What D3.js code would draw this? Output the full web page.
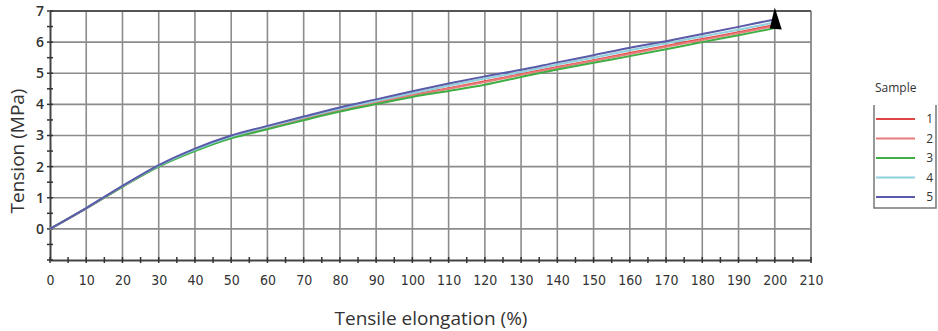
<!DOCTYPE html>
<html>
<head>
<meta charset="utf-8">
<script src="https://cdn.jsdelivr.net/npm/d3@7"></script>
<style>
  body { margin: 0; background: #fff; }
  svg { display: block; }
</style>
</head>
<body>
<div id="chart"></div>
<script>
// data
var elongation = [0, 10, 20, 30, 40, 50, 60, 70, 80, 90, 100, 110, 120, 130, 140, 150, 160, 170, 180, 190, 200];
var sample1 = [0, 0.66, 1.36, 2.02, 2.53, 2.95, 3.25, 3.54, 3.82, 4.07, 4.31, 4.52, 4.74, 4.97, 5.20, 5.42, 5.65, 5.88, 6.10, 6.32, 6.55];
var sample2 = [0, 0.66, 1.36, 2.01, 2.52, 2.94, 3.23, 3.52, 3.81, 4.05, 4.29, 4.50, 4.72, 4.95, 5.18, 5.40, 5.62, 5.85, 6.07, 6.29, 6.52];
var sample3 = [0, 0.66, 1.35, 2.00, 2.50, 2.91, 3.20, 3.49, 3.77, 4.01, 4.24, 4.43, 4.63, 4.88, 5.12, 5.34, 5.55, 5.77, 6.00, 6.22, 6.45];
var sample4 = [0, 0.67, 1.37, 2.03, 2.55, 2.97, 3.28, 3.58, 3.86, 4.11, 4.36, 4.60, 4.83, 5.04, 5.28, 5.50, 5.74, 5.96, 6.18, 6.40, 6.63];
var sample5 = [0, 0.67, 1.38, 2.05, 2.58, 3.00, 3.31, 3.61, 3.90, 4.16, 4.42, 4.67, 4.90, 5.11, 5.35, 5.58, 5.82, 6.03, 6.26, 6.49, 6.73];
var sampleNames = ["1", "2", "3", "4", "5"];
var sampleColors = ["#e04545", "#ea7b7b", "#3fae45", "#8fd0dd", "#5a5aa8"];
var xTicks = d3.range(0, 211, 10);
var yTicks = [0, 1, 2, 3, 4, 5, 6, 7];

var svgWidth = 938;
var svgHeight = 331;
var margin = { top: 11, right: 127, bottom: 71, left: 50 };
var width = svgWidth - margin.left - margin.right;
var height = svgHeight - margin.top - margin.bottom;

var svg = d3.select("#chart")
    .append("svg")
    .attr("width", svgWidth)
    .attr("height", svgHeight);

var chartGroup = svg.append("g")
    .attr("transform", `translate(${margin.left}, ${margin.top})`);

var xScale = d3.scaleLinear().domain([0, 210]).range([0, width]);
var yScale = d3.scaleLinear().domain([-1, 7]).range([height, 0]);

// grid
chartGroup.append("g")
    .selectAll("line")
    .data(xTicks.slice(1))
    .enter()
    .append("line")
    .attr("x1", d => xScale(d)).attr("x2", d => xScale(d))
    .attr("y1", 0).attr("y2", height)
    .attr("stroke", d => d === 210 ? "#777" : "#8c8c8c")
    .attr("stroke-width", 1.6);

chartGroup.append("g")
    .selectAll("line")
    .data(yTicks)
    .enter()
    .append("line")
    .attr("x1", 0).attr("x2", width)
    .attr("y1", d => yScale(d)).attr("y2", d => yScale(d))
    .attr("stroke", d => d === 7 ? "#555" : "#8c8c8c")
    .attr("stroke-width", d => d === 7 ? 2 : 1.6);

// axes
var bottomAxis = d3.axisBottom(xScale).tickValues(xTicks).tickSize(0).tickPadding(15);
var leftAxis = d3.axisLeft(yScale).tickValues(yTicks).tickSize(0).tickPadding(6);

var xAxisG = chartGroup.append("g")
    .attr("transform", `translate(0, ${height})`)
    .call(bottomAxis);
xAxisG.select(".domain").attr("stroke", "#444").attr("stroke-width", 2);
xAxisG.selectAll("text")
    .attr("fill", "#333")
    .style("font-family", "'DejaVu Sans Condensed', 'DejaVu Sans', sans-serif")
    .style("font-stretch", "condensed")
    .style("font-size", "14px");

var yAxisG = chartGroup.append("g").call(leftAxis);
yAxisG.select(".domain").attr("stroke", "#444").attr("stroke-width", 2);
yAxisG.selectAll("text")
    .attr("fill", "#333")
    .style("font-family", "'Open Sans', sans-serif")
    .style("font-size", "14px")
    .style("font-weight", "600");

// small ticks crossing the axes
chartGroup.append("g")
    .selectAll("line")
    .data(d3.range(0, 211, 5))
    .enter()
    .append("line")
    .attr("x1", d => xScale(d)).attr("x2", d => xScale(d))
    .attr("y1", height - 3).attr("y2", height + 3)
    .attr("stroke", "#333").attr("stroke-width", 1.5);

chartGroup.append("g")
    .selectAll("line")
    .data(d3.range(-1, 7.01, 0.5))
    .enter()
    .append("line")
    .attr("x1", -3).attr("x2", 3)
    .attr("y1", d => yScale(d)).attr("y2", d => yScale(d))
    .attr("stroke", "#333").attr("stroke-width", 1.5);

// curves
var allSamples = [sample1, sample2, sample3, sample4, sample5];
var line = d3.line()
    .x((d, i) => xScale(elongation[i]))
    .y(d => yScale(d))
    .curve(d3.curveCatmullRom.alpha(0.5));

chartGroup.append("g")
    .selectAll("path")
    .data(allSamples)
    .enter()
    .append("path")
    .attr("d", line)
    .attr("fill", "none")
    .attr("stroke", (d, i) => sampleColors[i])
    .attr("stroke-width", 2);

// end marker
var endX = xScale(200);
var endY = yScale(6.6);
chartGroup.append("path")
    .attr("d", `M${endX},${endY - 16} L${endX + 7},${endY + 6} L${endX - 5},${endY + 5} Z`)
    .attr("fill", "#000");

// axis titles
svg.append("text")
    .attr("transform", `translate(24, 151) rotate(-90)`)
    .attr("text-anchor", "middle")
    .attr("fill", "#333")
    .style("font-family", "'Open Sans', sans-serif")
    .style("font-size", "19px")
    .text("Tension (MPa)");

svg.append("text")
    .attr("x", 431)
    .attr("y", 325)
    .attr("text-anchor", "middle")
    .attr("fill", "#333")
    .style("font-family", "'Open Sans', sans-serif")
    .style("font-size", "19px")
    .text("Tensile elongation (%)");

// legend
var legend = svg.append("g");
legend.append("text")
    .attr("x", 875).attr("y", 92)
    .attr("fill", "#333")
    .style("font-family", "'Open Sans', sans-serif")
    .style("font-size", "12px")
    .text("Sample");

legend.append("path")
    .attr("d", "M874,105 L874,208 L936,208 L936,105")
    .attr("fill", "none")
    .attr("stroke", "#777")
    .attr("stroke-width", 1.5);

var legendY = d3.scalePoint().domain(sampleNames).range([119, 197]);
var rows = legend.selectAll(".row")
    .data(sampleNames)
    .enter()
    .append("g");
rows.append("line")
    .attr("x1", 876).attr("x2", 915)
    .attr("y1", d => legendY(d)).attr("y2", d => legendY(d))
    .attr("stroke", (d, i) => sampleColors[i])
    .attr("stroke-width", 2);
rows.append("text")
    .attr("x", 933).attr("y", d => legendY(d) + 4)
    .attr("text-anchor", "end")
    .attr("fill", "#333")
    .style("font-family", "'Open Sans', sans-serif")
    .style("font-size", "12px")
    .text(d => d);
</script>
</body>
</html>
